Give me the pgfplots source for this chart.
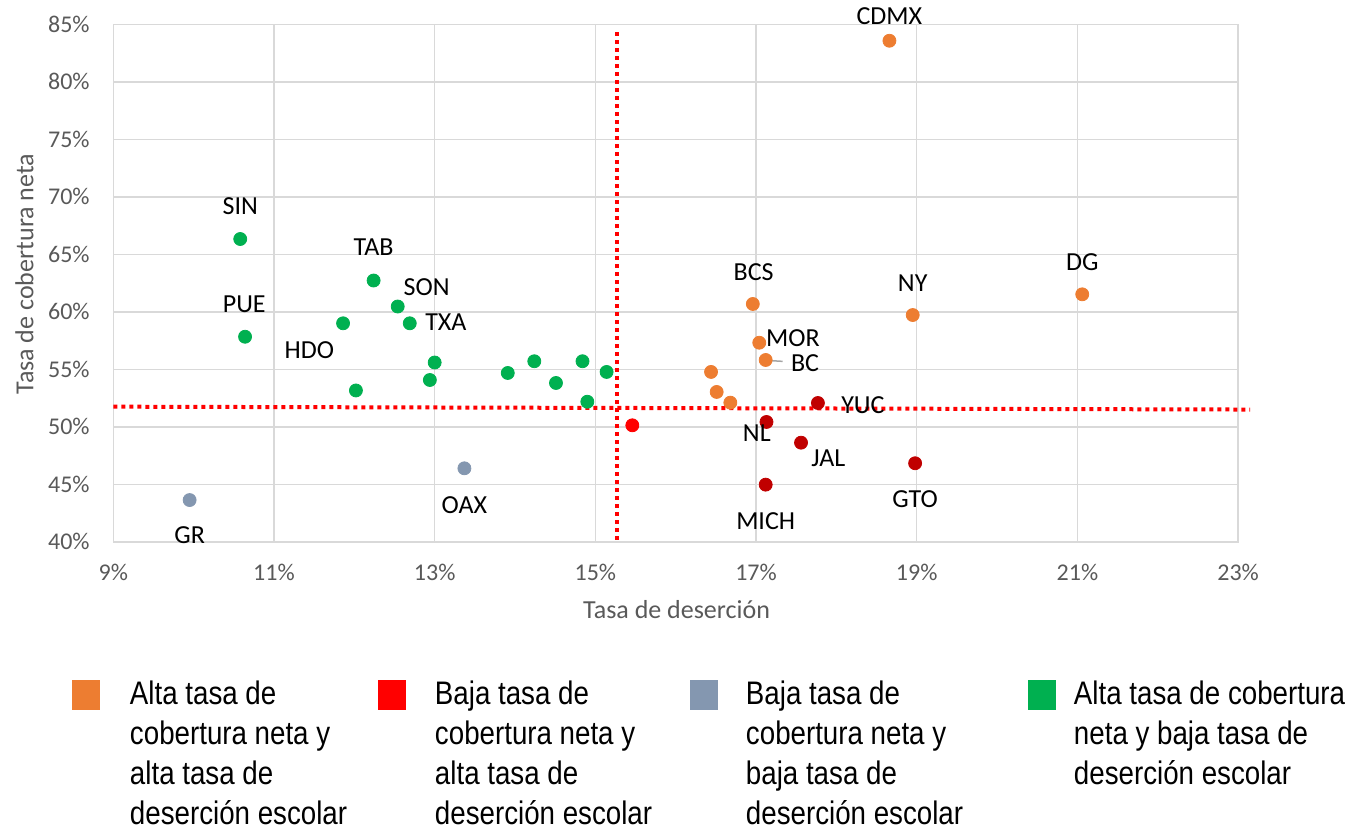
\documentclass[border=0pt]{standalone}
\usepackage{pgfplots}
\pgfplotsset{compat=1.18}
\usepackage{pgfplotstable}
\usepackage{fontspec}
\setmainfont{Carlito}
\newfontfamily\legfont[FakeStretch=0.85]{Liberation Sans}
\definecolor{orangeC}{HTML}{ED7D31}
\definecolor{redC}{HTML}{FF0000}
\definecolor{darkredC}{HTML}{C00000}
\definecolor{grayC}{HTML}{8497B0}
\definecolor{greenC}{HTML}{00B050}
\definecolor{gridC}{HTML}{D9D9D9}
\definecolor{textgray}{HTML}{595959}
\definecolor{leaderC}{HTML}{A5A5A5}

\pgfplotstableread{
x y
18.66 83.57
21.06 61.52
18.95 59.72
16.96 60.68
17.04 57.31
17.12 55.81
16.44 54.77
16.51 53.03
16.68 52.10
}\orangedata
\pgfplotstableread{
x y
15.46 50.13
}\reddata
\pgfplotstableread{
x y
17.77 52.07
17.13 50.42
17.56 48.62
18.98 46.83
17.12 44.97
}\darkreddata
\pgfplotstableread{
x y
13.37 46.39
9.95 43.63
}\graydata
\pgfplotstableread{
x y
10.58 66.33
10.64 57.83
12.24 62.72
12.54 60.46
12.69 59.00
11.86 59.00
13.00 55.59
12.94 54.07
12.02 53.16
13.91 54.68
14.24 55.70
14.51 53.81
14.84 55.70
15.14 54.77
14.90 52.18
}\greendata
\pgfplotstableread{
x y label
18.66 85.75 CDMX
21.06 64.36 DG
18.95 62.53 NY
16.97 63.49 BCS
17.46 57.70 MOR
17.61 55.52 BC
18.33 51.90 YUC
17.01 49.49 NL
17.90 47.26 JAL
18.98 43.70 GTO
17.12 41.81 MICH
13.37 43.20 OAX
9.95 40.59 GR
10.58 69.20 SIN
12.24 65.66 TAB
12.90 62.18 SON
13.14 59.09 TXA
10.63 60.68 PUE
11.44 56.68 HDO
}\labeldata

\begin{document}
\begin{tikzpicture}
\useasboundingbox (-56.65pt,-146.6pt) rectangle (621.85pt,270.9pt);
\begin{axis}[
  scale only axis,
  width=562.4pt, height=258.75pt,
  xmin=9, xmax=23, ymin=40, ymax=85,
  clip=false,
  xtick={9,11,...,23},
  ytick={40,45,...,85},
  /pgf/number format/assume math mode=true,
  xticklabel={\pgfmathprintnumber{\tick}\%},
  yticklabel={\pgfmathprintnumber{\tick}\%},
  major tick length=0pt,
  grid=major,
  major grid style={draw=gridC, line width=0.75pt},
  axis line style={draw=gridC, line width=0.75pt},
  every tick label/.append style={font=\fontsize{12pt}{14pt}\selectfont, text=textgray, inner sep=0pt},
  xticklabel style={anchor=base, yshift=-19.35pt},
  yticklabel style={anchor=east, xshift=-11.65pt},
  every axis x label/.style={at={(axis description cs:0.5008,0)}, anchor=base, yshift=-38.25pt, inner sep=0pt, font=\fontsize{13pt}{15pt}\selectfont, text=textgray},
  every axis y label/.style={at={(axis description cs:-0.0711,0.5171)}, rotate=90, anchor=base, inner sep=0pt, font=\fontsize{13pt}{15pt}\selectfont, text=textgray},
  xlabel={Tasa de deserción},
  ylabel={Tasa de cobertura neta},
  legend columns=4,
  legend style={draw=none, fill=none, inner sep=0pt, outer sep=0pt,
    at={(axis description cs:0,0)}, anchor=north west,
    xshift=-20.65pt, yshift=-67.6pt,
    column sep=0pt, row sep=0pt,
    cells={anchor=base west},
    nodes={inner sep=0pt, outer sep=0pt},
    font={\legfont\fontsize{16.3pt}{20pt}\selectfont}},
]
% reference lines
\addplot[forget plot, redC, line width=2pt, dash pattern=on 2pt off 2pt]
  coordinates {(15.265,84.33) (15.265,40.15)};
\addplot[forget plot, redC, line width=2pt, dash pattern=on 2pt off 2pt]
  coordinates {(9,51.75) (23.15,51.5)};
% leader line for BC
\addplot[forget plot, leaderC, line width=0.75pt]
  coordinates {(17.14,55.77) (17.33,55.69)};

\addplot[only marks, mark=*, mark size=3.25pt, draw=none,
  mark options={draw=orangeC, fill=orangeC},
  legend image code/.code={\fill[orangeC] (0pt,-2.5pt) rectangle (14pt,12.5pt); \path[draw=none,fill=none] (0pt,0pt) -- (29pt,0pt);}]
  table[x=x,y=y] {\orangedata};
\addlegendentry{\makebox[124pt][l]{\begin{tabular}[t]{@{}l@{}}Alta tasa de\\cobertura neta y\\alta tasa de\\deserción escolar\end{tabular}}}

\addplot[only marks, mark=*, mark size=3.25pt, draw=none,
  mark options={draw=redC, fill=redC},
  legend image code/.code={\fill[redC] (0pt,-2.5pt) rectangle (14pt,12.5pt); \path[draw=none,fill=none] (0pt,0pt) -- (28.5pt,0pt);}]
  table[x=x,y=y] {\reddata};
\addlegendentry{\makebox[127.5pt][l]{\begin{tabular}[t]{@{}l@{}}Baja tasa de\\cobertura neta y\\alta tasa de\\deserción escolar\end{tabular}}}

\addplot[only marks, mark=*, mark size=3.25pt, draw=none,
  mark options={draw=grayC, fill=grayC},
  legend image code/.code={\fill[grayC] (0pt,-2.5pt) rectangle (14pt,12.5pt); \path[draw=none,fill=none] (0pt,0pt) -- (28pt,0pt);}]
  table[x=x,y=y] {\graydata};
\addlegendentry{\makebox[141pt][l]{\begin{tabular}[t]{@{}l@{}}Baja tasa de\\cobertura neta y\\baja tasa de\\deserción escolar\end{tabular}}}

\addplot[only marks, mark=*, mark size=3.25pt, draw=none,
  mark options={draw=greenC, fill=greenC},
  legend image code/.code={\fill[greenC] (0pt,-2.5pt) rectangle (14pt,12.5pt); \path[draw=none,fill=none] (0pt,0pt) -- (23pt,0pt);}]
  table[x=x,y=y] {\greendata};
\addlegendentry{\begin{tabular}[t]{@{}l@{}}Alta tasa de cobertura\\neta y baja tasa de\\deserción escolar\end{tabular}}

\addplot[forget plot, only marks, mark=*, mark size=3.25pt, draw=none,
  mark options={draw=darkredC, fill=darkredC}]
  table[x=x,y=y] {\darkreddata};

% data labels
\addplot[forget plot, draw=none, mark=none,
  nodes near coords, point meta=explicit symbolic,
  every node near coord/.style={anchor=center, inner sep=0pt, text=black, font=\fontsize{13pt}{15pt}\selectfont}]
  table[x=x,y=y,meta=label] {\labeldata};
\end{axis}
\end{tikzpicture}
\end{document}
